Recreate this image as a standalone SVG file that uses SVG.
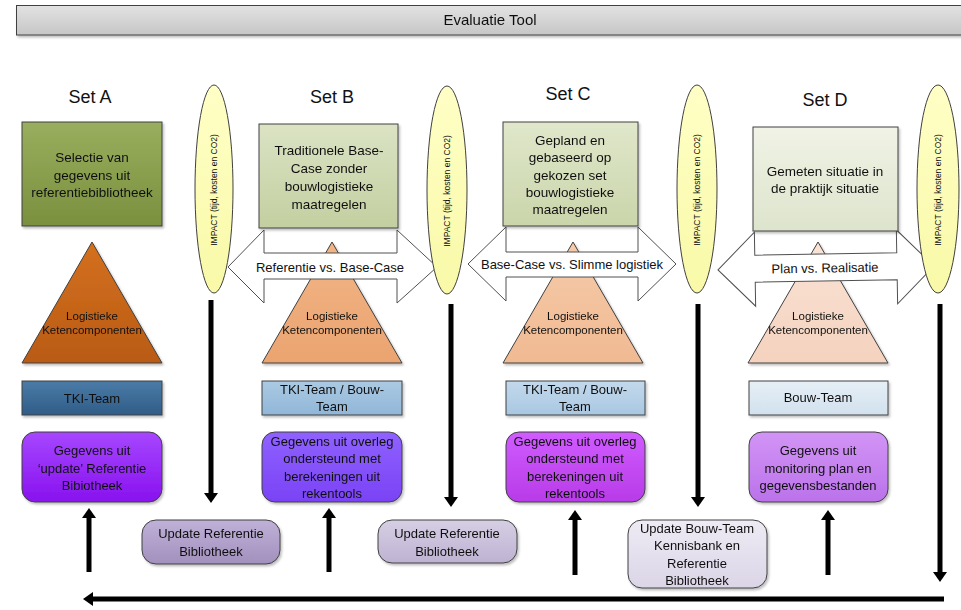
<svg xmlns="http://www.w3.org/2000/svg" width="961" height="610" viewBox="0 0 961 610">
<defs>
<style>
text{font-family:"Liberation Sans",Arial,sans-serif;fill:#111;text-anchor:middle}
.box{stroke:#404040;stroke-width:1}
.t14{font-size:13.5px}
.t13{font-size:13px}
.t11{font-size:11.5px}
.t8{font-size:8.5px}
.title{font-size:18px}
.ell{fill:url(#gEll);stroke:#404040;stroke-width:1}
.dbl{fill:#fff;stroke:#505050;stroke-width:1}
.conn{stroke:#000;stroke-width:5;fill:none;marker-end:url(#ah)}
</style>
<filter id="sh" x="-10%" y="-10%" width="125%" height="130%"><feDropShadow dx="1.5" dy="2" stdDeviation="1.2" flood-color="#000" flood-opacity="0.25"/></filter>
<marker id="ah" markerUnits="userSpaceOnUse" markerWidth="14" markerHeight="14" viewBox="0 0 10 14" refX="4" refY="7" orient="auto"><path d="M0,0 L10,7 L0,14 z" fill="#000"/></marker>
<linearGradient id="gBan" x1="0" y1="0" x2="0" y2="1"><stop offset="0" stop-color="#e2e2e2"/><stop offset="1" stop-color="#c6c6c6"/></linearGradient>
<linearGradient id="gGA" x1="0" y1="0" x2="0" y2="1"><stop offset="0" stop-color="#99ae5e"/><stop offset="1" stop-color="#7a903e"/></linearGradient>
<linearGradient id="gGB" x1="0" y1="0" x2="0" y2="1"><stop offset="0" stop-color="#dbe3c4"/><stop offset="1" stop-color="#c3cfa0"/></linearGradient>
<linearGradient id="gGC" x1="0" y1="0" x2="0" y2="1"><stop offset="0" stop-color="#e0e7cb"/><stop offset="1" stop-color="#cad5aa"/></linearGradient>
<linearGradient id="gGD" x1="0" y1="0" x2="0" y2="1"><stop offset="0" stop-color="#f0f3e6"/><stop offset="1" stop-color="#dde4cc"/></linearGradient>
<linearGradient id="gTA" x1="0" y1="0" x2="0" y2="1"><stop offset="0" stop-color="#d4701f"/><stop offset="1" stop-color="#b95b14"/></linearGradient>
<linearGradient id="gTB" x1="0" y1="0" x2="0" y2="1"><stop offset="0" stop-color="#f3b586"/><stop offset="1" stop-color="#eaa470"/></linearGradient>
<linearGradient id="gTC" x1="0" y1="0" x2="0" y2="1"><stop offset="0" stop-color="#f6cbaa"/><stop offset="1" stop-color="#f0ba92"/></linearGradient>
<linearGradient id="gTD" x1="0" y1="0" x2="0" y2="1"><stop offset="0" stop-color="#fae3d6"/><stop offset="1" stop-color="#f4d2be"/></linearGradient>
<linearGradient id="gKA" x1="0" y1="0" x2="0" y2="1"><stop offset="0" stop-color="#4b7ba7"/><stop offset="1" stop-color="#2f5d87"/></linearGradient>
<linearGradient id="gKB" x1="0" y1="0" x2="0" y2="1"><stop offset="0" stop-color="#abcae3"/><stop offset="1" stop-color="#90b6d8"/></linearGradient>
<linearGradient id="gKC" x1="0" y1="0" x2="0" y2="1"><stop offset="0" stop-color="#c3d9ec"/><stop offset="1" stop-color="#a9c7e2"/></linearGradient>
<linearGradient id="gKD" x1="0" y1="0" x2="0" y2="1"><stop offset="0" stop-color="#e6eff6"/><stop offset="1" stop-color="#d2e1ee"/></linearGradient>
<linearGradient id="gPA" x1="0" y1="0" x2="0" y2="1"><stop offset="0" stop-color="#a646ff"/><stop offset="1" stop-color="#8812ee"/></linearGradient>
<linearGradient id="gPB" x1="0" y1="0" x2="0" y2="1"><stop offset="0" stop-color="#8f62ff"/><stop offset="1" stop-color="#7a42f5"/></linearGradient>
<linearGradient id="gPC" x1="0" y1="0" x2="0" y2="1"><stop offset="0" stop-color="#d05cff"/><stop offset="1" stop-color="#b83be8"/></linearGradient>
<linearGradient id="gPD" x1="0" y1="0" x2="0" y2="1"><stop offset="0" stop-color="#d294f6"/><stop offset="1" stop-color="#bb72ea"/></linearGradient>
<linearGradient id="gU1" x1="0" y1="0" x2="0" y2="1"><stop offset="0" stop-color="#bfb1d8"/><stop offset="1" stop-color="#a290bd"/></linearGradient>
<linearGradient id="gU2" x1="0" y1="0" x2="0" y2="1"><stop offset="0" stop-color="#d6cfe4"/><stop offset="1" stop-color="#beb2d2"/></linearGradient>
<linearGradient id="gU3" x1="0" y1="0" x2="0" y2="1"><stop offset="0" stop-color="#eeebf4"/><stop offset="1" stop-color="#dbd5e7"/></linearGradient>
<linearGradient id="gEll" x1="0" y1="0" x2="0" y2="1"><stop offset="0" stop-color="#ffffc6"/><stop offset="1" stop-color="#f9f9a8"/></linearGradient>
</defs>
<rect width="961" height="610" fill="#fff"/>

<g id="banner" filter="url(#sh)">
<rect class="box" x="16.5" y="5.5" width="960" height="29.5" fill="url(#gBan)"/>
<text x="490" y="25" style="font-size:15px">Evaluatie Tool</text>
</g>

<g id="titles">
<text class="title" x="90" y="103">Set A</text>
<text class="title" x="332" y="103">Set B</text>
<text class="title" x="568" y="100">Set C</text>
<text class="title" x="825" y="106">Set D</text>
</g>

<g id="triA" filter="url(#sh)">
<polygon class="box" points="92,242 162,363 22,363" fill="url(#gTA)"/>
<text class="t11" x="92" y="320">Logistieke</text>
<text class="t11" x="92" y="334">Ketencomponenten</text>
</g>
<g id="triB" filter="url(#sh)">
<polygon class="box" points="332,242 402,363 262,363" fill="url(#gTB)"/>
<text class="t11" x="332" y="320">Logistieke</text>
<text class="t11" x="332" y="334">Ketencomponenten</text>
</g>
<g id="triC" filter="url(#sh)">
<polygon class="box" points="573,242 643,363 503,363" fill="url(#gTC)"/>
<text class="t11" x="573" y="320">Logistieke</text>
<text class="t11" x="573" y="334">Ketencomponenten</text>
</g>
<g id="triD" filter="url(#sh)">
<polygon class="box" points="818,242 888,363 748,363" fill="url(#gTD)"/>
<text class="t11" x="818" y="320">Logistieke</text>
<text class="t11" x="818" y="334">Ketencomponenten</text>
</g>

<g id="cmpB">
<polygon class="dbl" points="228,267 264,230 264,253 397,253 397,230 437,267 397,303 397,279 264,279 264,303"/>
<text class="t13" x="330" y="271.5">Referentie vs. Base-Case</text>
</g>
<g id="cmpC">
<polygon class="dbl" points="468,264 506,227 506,252 638,252 638,227 676,264 638,301 638,277 506,277 506,301"/>
<text class="t13" x="572" y="268.5">Base-Case vs. Slimme logistiek</text>
</g>
<g id="cmpD" transform="rotate(-1 826 268)">
<polygon class="dbl" points="718,268 755,231 755,254 897,254 897,231 934,268 897,305 897,281 755,281 755,305"/>
<text class="t13" x="825" y="272.5">Plan vs. Realisatie</text>
</g>

<g id="setA" filter="url(#sh)">
<rect class="box" x="22" y="122" width="140" height="104" fill="url(#gGA)"/>
<text class="t14" x="92" y="162">Selectie van</text>
<text class="t14" x="92" y="180">gegevens uit</text>
<text class="t14" x="92" y="197">referentiebibliotheek</text>
</g>
<g id="setB" filter="url(#sh)">
<rect class="box" x="259" y="124" width="139" height="104" fill="url(#gGB)"/>
<text class="t14" x="329" y="155">Traditionele Base-</text>
<text class="t14" x="329" y="173">Case zonder</text>
<text class="t14" x="329" y="191">bouwlogistieke</text>
<text class="t14" x="329" y="209">maatregelen</text>
</g>
<g id="setC" filter="url(#sh)">
<rect class="box" x="503" y="122" width="135" height="104" fill="url(#gGC)"/>
<text class="t14" x="570" y="145">Gepland en</text>
<text class="t14" x="570" y="162">gebaseerd op</text>
<text class="t14" x="570" y="180">gekozen set</text>
<text class="t14" x="570" y="197">bouwlogistieke</text>
<text class="t14" x="570" y="214">maatregelen</text>
</g>
<g id="setD" filter="url(#sh)">
<rect class="box" x="753" y="127" width="145" height="104" fill="url(#gGD)"/>
<text class="t14" x="825" y="176">Gemeten situatie in</text>
<text class="t14" x="825" y="193">de praktijk situatie</text>
</g>

<g id="impact1">
<ellipse class="ell" cx="214" cy="189" rx="19" ry="104"/>
<text class="t8" transform="translate(217 190) rotate(-90)">IMPACT (tijd, kosten en CO2)</text>
</g>
<g id="impact2">
<ellipse class="ell" cx="447" cy="190" rx="20" ry="104"/>
<text class="t8" transform="translate(450 191) rotate(-90)">IMPACT (tijd, kosten en CO2)</text>
</g>
<g id="impact3">
<ellipse class="ell" cx="697" cy="189" rx="20" ry="104"/>
<text class="t8" transform="translate(700 190) rotate(-90)">IMPACT (tijd, kosten en CO2)</text>
</g>
<g id="impact4">
<ellipse class="ell" cx="938" cy="189" rx="21" ry="104"/>
<text class="t8" transform="translate(941 190) rotate(-90)">IMPACT (tijd, kosten en CO2)</text>
</g>

<g id="teamA" filter="url(#sh)">
<rect class="box" x="22" y="381" width="140" height="34" fill="url(#gKA)"/>
<text class="t13" x="92" y="402.5">TKI-Team</text>
</g>
<g id="teamB" filter="url(#sh)">
<rect class="box" x="262" y="381" width="140" height="34" fill="url(#gKB)"/>
<text class="t13" x="332" y="393.5">TKI-Team / Bouw-</text>
<text class="t13" x="332" y="410.5">Team</text>
</g>
<g id="teamC" filter="url(#sh)">
<rect class="box" x="506" y="381" width="139" height="34" fill="url(#gKC)"/>
<text class="t13" x="575" y="393.5">TKI-Team / Bouw-</text>
<text class="t13" x="575" y="410.5">Team</text>
</g>
<g id="teamD" filter="url(#sh)">
<rect class="box" x="749" y="381" width="139" height="34" fill="url(#gKD)"/>
<text class="t13" x="818" y="401.5">Bouw-Team</text>
</g>

<g id="dataA" filter="url(#sh)">
<rect class="box" x="22" y="432" width="140" height="70" rx="13" fill="url(#gPA)"/>
<text class="t13" x="92" y="454.5">Gegevens uit</text>
<text class="t13" x="92" y="472.5">‘update’ Referentie</text>
<text class="t13" x="92" y="489.5">Bibiotheek</text>
</g>
<g id="dataB" filter="url(#sh)">
<rect class="box" x="262" y="432" width="140" height="70" rx="13" fill="url(#gPB)"/>
<text class="t13" x="332" y="445.5">Gegevens uit overleg</text>
<text class="t13" x="332" y="462.5">ondersteund met</text>
<text class="t13" x="332" y="480.5">berekeningen uit</text>
<text class="t13" x="332" y="497.5">rekentools</text>
</g>
<g id="dataC" filter="url(#sh)">
<rect class="box" x="506" y="432" width="139" height="70" rx="13" fill="url(#gPC)"/>
<text class="t13" x="575" y="445.5">Gegevens uit overleg</text>
<text class="t13" x="575" y="462.5">ondersteund met</text>
<text class="t13" x="575" y="480.5">berekeningen uit</text>
<text class="t13" x="575" y="497.5">rekentools</text>
</g>
<g id="dataD" filter="url(#sh)">
<rect class="box" x="749" y="432" width="139" height="70" rx="13" fill="url(#gPD)"/>
<text class="t13" x="818" y="454.5">Gegevens uit</text>
<text class="t13" x="818" y="472.5">monitoring plan en</text>
<text class="t13" x="818" y="489.5">gegevensbestanden</text>
</g>

<g id="update1" filter="url(#sh)">
<rect class="box" x="142" y="520" width="138" height="44" rx="14" fill="url(#gU1)"/>
<text class="t13" x="211" y="537.5">Update Referentie</text>
<text class="t13" x="211" y="555.5">Bibliotheek</text>
</g>
<g id="update2" filter="url(#sh)">
<rect class="box" x="378" y="520" width="139" height="43" rx="14" fill="url(#gU2)"/>
<text class="t13" x="447" y="537.5">Update Referentie</text>
<text class="t13" x="447" y="555.5">Bibliotheek</text>
</g>
<g id="update3" filter="url(#sh)">
<rect class="box" x="628" y="520" width="139" height="68" rx="14" fill="url(#gU3)"/>
<text class="t13" x="697" y="532.5">Update Bouw-Team</text>
<text class="t13" x="697" y="549.5">Kennisbank en</text>
<text class="t13" x="697" y="567.5">Referentie</text>
<text class="t13" x="697" y="584.5">Bibliotheek</text>
</g>

<g id="connectors">
<path class="conn" d="M211,300 V497"/>
<path class="conn" d="M451,304 V501"/>
<path class="conn" d="M698,304 V501"/>
<path class="conn" d="M940,304 V576"/>
<path class="conn" d="M89,572 V514"/>
<path class="conn" d="M329,572 V514"/>
<path class="conn" d="M575,575 V516"/>
<path class="conn" d="M828,575 V516"/>
<path class="conn" d="M944,599 H89"/>
</g>
</svg>
